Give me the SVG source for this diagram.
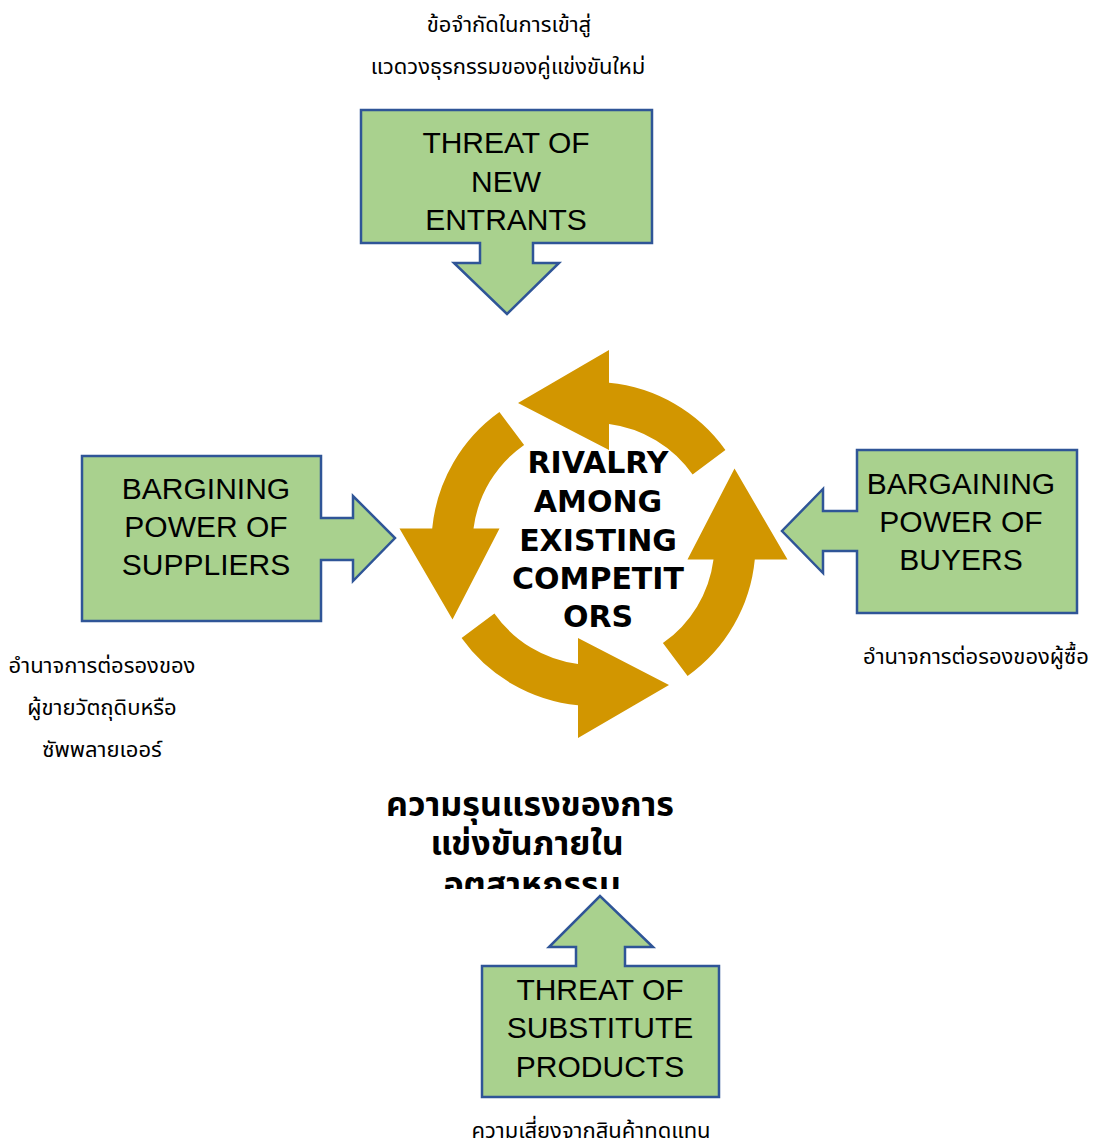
<svg xmlns="http://www.w3.org/2000/svg" width="1098" height="1144" viewBox="0 0 1098 1144">
  <style>
    .box { fill: #A9D18E; stroke: #2F5597; stroke-width: 2.5; stroke-linejoin: miter; }
    .lbl { font-family: "Liberation Sans", Arial, sans-serif; font-size: 30px; fill: #000; text-anchor: middle; }
    .core { font-family: "DejaVu Sans", sans-serif; font-weight: bold; font-size: 30px; fill: #000; text-anchor: middle; }
    .th { font-family: "Tahoma", "Noto Sans Thai", "Noto Sans", "DejaVu Sans", sans-serif; font-size: 22px; fill: #000; text-anchor: middle; }
    .thb { font-family: "Tahoma", "Noto Sans Thai", "Noto Sans", "DejaVu Sans", sans-serif; font-size: 34px; font-weight: bold; fill: #000; text-anchor: middle; }
    .cyc { fill: #D29600; }
  </style>
  <defs>
    <!-- one curved arrow of the rivalry cycle; the other three are rotations about the centre -->
    <path id="cycle-arrow" d="M725.4 449.9 A162 162 0 0 0 609 382.7 L609 350 L518 403 L609 450 L609 424 A121 121 0 0 1 692.6 474.6 Z"/>
    <clipPath id="core-thai-clip">
      <rect x="300" y="770" width="500" height="119"/>
    </clipPath>
  </defs>

  <!-- rivalry cycle -->
  <g id="rivalry">
    <use href="#cycle-arrow" class="cyc"/>
    <use href="#cycle-arrow" class="cyc" transform="rotate(90 593.5 544)"/>
    <use href="#cycle-arrow" class="cyc" transform="rotate(180 593.5 544)"/>
    <use href="#cycle-arrow" class="cyc" transform="rotate(270 593.5 544)"/>
    <text class="core" x="598" y="473">RIVALRY</text>
    <text class="core" x="598" y="512">AMONG</text>
    <text class="core" x="598" y="551">EXISTING</text>
    <text class="core" x="598" y="589">COMPETIT</text>
    <text class="core" x="598" y="627">ORS</text>
  </g>

  <!-- callouts pointing at the cycle -->
  <g id="connectors">
    <path id="arrow-new-entrants" class="box" d="M361 110 H652 V243 H533 V263 H559 L507 314 L454 263 H480 V243 H361 Z"/>
    <path id="arrow-suppliers" class="box" d="M82 456 H321 V496 V518 H353 V496 L395 538 L353 581 V560 H321 V621 H82 Z"/>
    <path id="arrow-buyers" class="box" d="M857 450 H1077 V613 H857 V551 H823 V573 L782 531 L823 489 V511 H857 Z"/>
    <path id="arrow-substitutes" class="box" d="M482 966 H576 V947 H549 L600 896 L653 947 H625 V966 H719 V1097 H482 Z"/>
  </g>

  <g id="new-entrants">
    <text class="lbl" x="506" y="153">THREAT OF</text>
    <text class="lbl" x="506" y="192">NEW</text>
    <text class="lbl" x="506" y="230">ENTRANTS</text>
    <text class="th" x="509" y="32">ข้อจำกัดในการเข้าสู่</text>
    <text class="th" x="508" y="74">แวดวงธุรกรรมของคู่แข่งขันใหม่</text>
  </g>

  <g id="suppliers">
    <text class="lbl" x="206" y="499">BARGINING</text>
    <text class="lbl" x="206" y="537">POWER OF</text>
    <text class="lbl" x="206" y="575">SUPPLIERS</text>
    <text class="th" x="102" y="673">อำนาจการต่อรองของ</text>
    <text class="th" x="102" y="715">ผู้ขายวัตถุดิบหรือ</text>
    <text class="th" x="102" y="757">ซัพพลายเออร์</text>
  </g>

  <g id="buyers">
    <text class="lbl" x="961" y="494">BARGAINING</text>
    <text class="lbl" x="961" y="532">POWER OF</text>
    <text class="lbl" x="961" y="570">BUYERS</text>
    <text class="th" x="976" y="664">อำนาจการต่อรองของผู้ซื้อ</text>
  </g>

  <g id="substitutes">
    <text class="lbl" x="600" y="1000">THREAT OF</text>
    <text class="lbl" x="600" y="1038">SUBSTITUTE</text>
    <text class="lbl" x="600" y="1077">PRODUCTS</text>
    <text class="th" x="591" y="1138">ความเสี่ยงจากสินค้าทดแทน</text>
  </g>

  <g id="rivalry-thai" clip-path="url(#core-thai-clip)">
    <text class="thb" x="530" y="816">ความรุนแรงของการ</text>
    <text class="thb" x="527" y="855">แข่งขันภายใน</text>
    <text class="thb" x="532" y="896">อุตสาหกรรม</text>
  </g>
</svg>
